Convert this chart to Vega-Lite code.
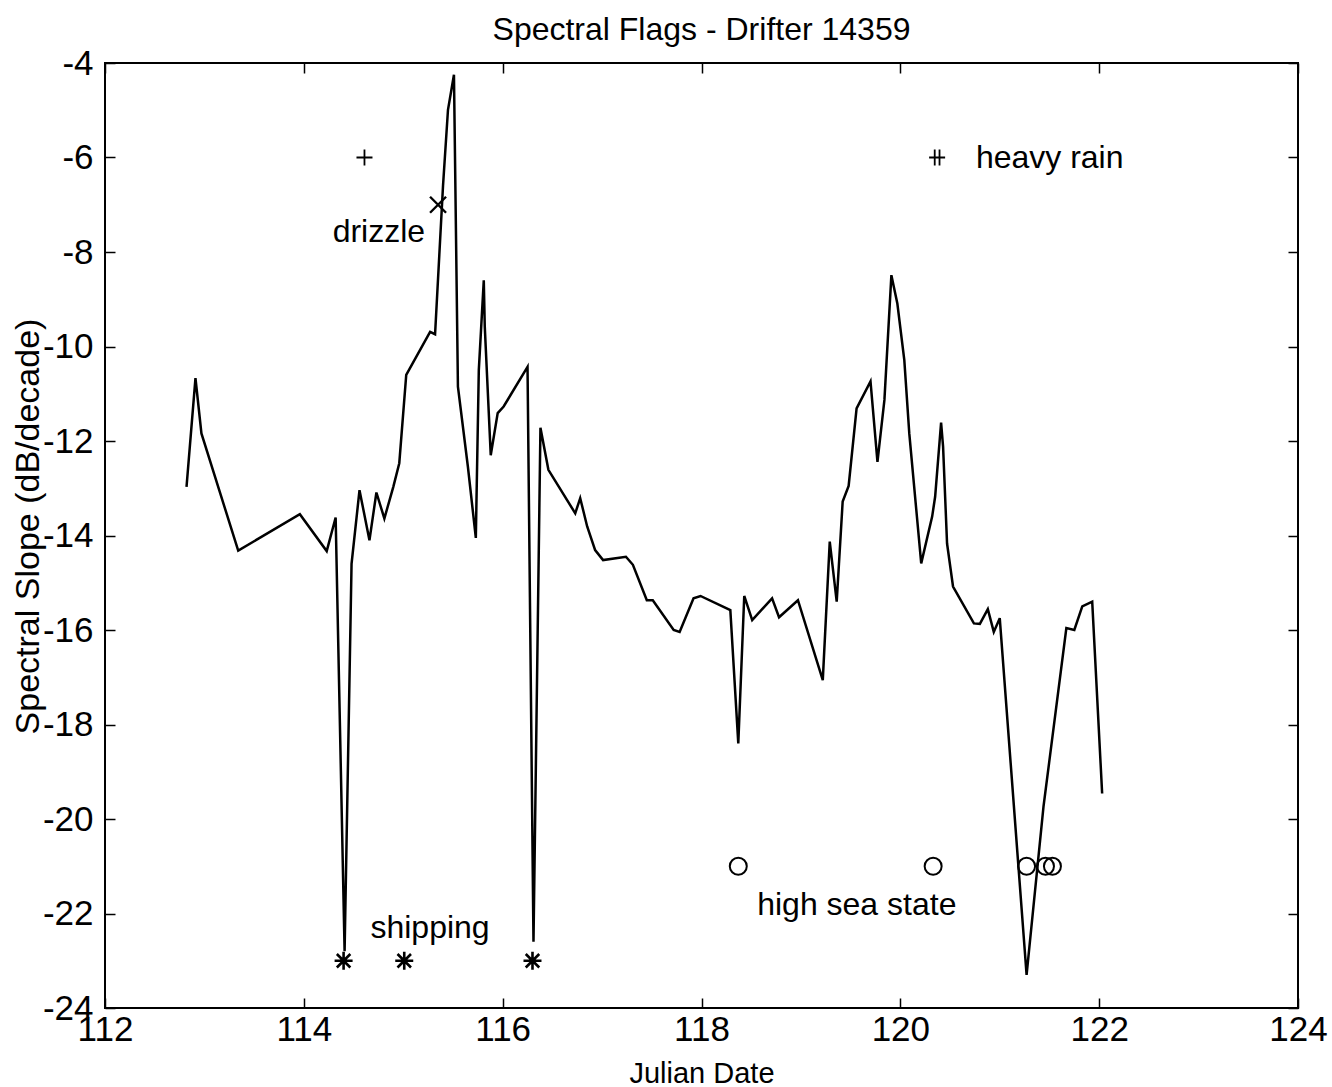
{
  "$schema": "https://vega.github.io/schema/vega-lite/v6.json",
  "width": 1193,
  "height": 945,
  "autosize": {"type": "none"},
  "padding": {"left": 105, "top": 63, "right": 34, "bottom": 79},
  "background": "white",
  "config": {
    "font": "Liberation Sans",
    "view": {"stroke": "black", "strokeWidth": 2},
    "axis": {
      "domain": false, "grid": false, "tickColor": "black", "tickSize": -10, "tickWidth": 1.5,
      "labelColor": "black", "labelFontSize": 35, "titleFontSize": 29, "titleFontWeight": "normal",
      "titleColor": "black", "labelFont": "Liberation Sans", "titleFont": "Liberation Sans"
    }
  },
  "title": {"text": "Spectral Flags - Drifter 14359", "fontSize": 32, "fontWeight": "normal", "font": "Liberation Sans", "offset": -1, "color": "black"},
  "datasets": {
    "line": [
      {"date": 112.82, "slope": -12.97}, {"date": 112.91, "slope": -10.67}, {"date": 112.97, "slope": -11.84},
      {"date": 113.34, "slope": -14.32}, {"date": 113.96, "slope": -13.55}, {"date": 114.23, "slope": -14.33},
      {"date": 114.32, "slope": -13.62}, {"date": 114.41, "slope": -22.8}, {"date": 114.48, "slope": -14.6},
      {"date": 114.56, "slope": -13.04}, {"date": 114.66, "slope": -14.1}, {"date": 114.73, "slope": -13.09},
      {"date": 114.81, "slope": -13.64}, {"date": 114.9, "slope": -12.97}, {"date": 114.96, "slope": -12.47},
      {"date": 115.03, "slope": -10.6}, {"date": 115.27, "slope": -9.69}, {"date": 115.32, "slope": -9.74},
      {"date": 115.4, "slope": -6.6}, {"date": 115.45, "slope": -4.99}, {"date": 115.51, "slope": -4.25},
      {"date": 115.55, "slope": -10.85}, {"date": 115.65, "slope": -12.54}, {"date": 115.73, "slope": -14.05},
      {"date": 115.76, "slope": -10.5}, {"date": 115.81, "slope": -8.6}, {"date": 115.82, "slope": -9.58},
      {"date": 115.88, "slope": -12.3}, {"date": 115.95, "slope": -11.41}, {"date": 116.01, "slope": -11.27},
      {"date": 116.25, "slope": -10.43}, {"date": 116.31, "slope": -22.6}, {"date": 116.38, "slope": -11.72},
      {"date": 116.46, "slope": -12.61}, {"date": 116.73, "slope": -13.53}, {"date": 116.78, "slope": -13.21},
      {"date": 116.85, "slope": -13.81}, {"date": 116.93, "slope": -14.31}, {"date": 117.01, "slope": -14.52},
      {"date": 117.24, "slope": -14.45}, {"date": 117.31, "slope": -14.62}, {"date": 117.45, "slope": -15.37},
      {"date": 117.51, "slope": -15.37}, {"date": 117.72, "slope": -16.0}, {"date": 117.78, "slope": -16.04},
      {"date": 117.92, "slope": -15.33}, {"date": 117.99, "slope": -15.28}, {"date": 118.29, "slope": -15.58},
      {"date": 118.37, "slope": -18.4}, {"date": 118.43, "slope": -15.28}, {"date": 118.51, "slope": -15.79},
      {"date": 118.71, "slope": -15.33}, {"date": 118.78, "slope": -15.73}, {"date": 118.97, "slope": -15.37},
      {"date": 119.22, "slope": -17.06}, {"date": 119.29, "slope": -14.13}, {"date": 119.36, "slope": -15.4},
      {"date": 119.42, "slope": -13.28}, {"date": 119.48, "slope": -12.95}, {"date": 119.56, "slope": -11.31},
      {"date": 119.7, "slope": -10.74}, {"date": 119.77, "slope": -12.44}, {"date": 119.84, "slope": -11.13},
      {"date": 119.91, "slope": -8.49}, {"date": 119.97, "slope": -9.09}, {"date": 120.04, "slope": -10.29},
      {"date": 120.09, "slope": -11.84}, {"date": 120.21, "slope": -14.59}, {"date": 120.32, "slope": -13.6},
      {"date": 120.35, "slope": -13.18}, {"date": 120.41, "slope": -11.61}, {"date": 120.43, "slope": -12.12},
      {"date": 120.47, "slope": -14.17}, {"date": 120.53, "slope": -15.08}, {"date": 120.74, "slope": -15.86},
      {"date": 120.8, "slope": -15.87}, {"date": 120.88, "slope": -15.56}, {"date": 120.94, "slope": -16.04},
      {"date": 121.0, "slope": -15.75}, {"date": 121.27, "slope": -23.3}, {"date": 121.44, "slope": -19.74},
      {"date": 121.67, "slope": -15.96}, {"date": 121.75, "slope": -16.0}, {"date": 121.83, "slope": -15.5},
      {"date": 121.93, "slope": -15.4}, {"date": 122.03, "slope": -19.46}
    ],
    "flags": [
      {"flag": "light rain", "date": 114.61, "slope": -6},
      {"flag": "drizzle", "date": 115.35, "slope": -7},
      {"flag": "shipping", "date": 114.4, "slope": -23},
      {"flag": "shipping", "date": 115.01, "slope": -23},
      {"flag": "shipping", "date": 116.3, "slope": -23},
      {"flag": "high sea state", "date": 118.37, "slope": -21},
      {"flag": "high sea state", "date": 120.33, "slope": -21},
      {"flag": "high sea state", "date": 121.27, "slope": -21},
      {"flag": "high sea state", "date": 121.46, "slope": -21},
      {"flag": "high sea state", "date": 121.53, "slope": -21},
      {"flag": "heavy rain", "date": 120.37, "slope": -6}
    ],
    "labels": [
      {"text": "drizzle", "date": 115.22, "slope": -7.58, "side": "right"},
      {"text": "shipping", "date": 114.67, "slope": -22.3, "side": "left"},
      {"text": "high sea state", "date": 118.56, "slope": -21.82, "side": "left"},
      {"text": "heavy rain", "date": 120.76, "slope": -6, "side": "left"}
    ]
  },
  "layer": [
    {
      "data": {"name": "line"},
      "mark": {"type": "line", "color": "black", "strokeWidth": 2.5},
      "encoding": {
        "x": {"field": "date", "type": "quantitative", "scale": {"domain": [112, 124], "nice": false, "zero": false},
          "axis": {"orient": "bottom", "values": [112, 114, 116, 118, 120, 122, 124], "labelPadding": 14, "title": "Julian Date", "titleFontSize": 29, "titleY": 74, "titleBaseline": "alphabetic", "labelFlush": false, "labelExpr": "'' + datum.value"}},
        "y": {"field": "slope", "type": "quantitative", "scale": {"domain": [-24, -4], "nice": false, "zero": false},
          "axis": {"orient": "left", "values": [-24, -22, -20, -18, -16, -14, -12, -10, -8, -6, -4], "labelPadding": 22, "title": "Spectral Slope (dB/decade)", "titleFontSize": 34, "titleX": -67, "titleY": 463, "titleBaseline": "alphabetic", "titleAngle": -90, "labelFlush": false, "labelExpr": "'' + datum.value"}}
      }
    },
    {
      "data": {"name": "line"},
      "mark": {"type": "line", "opacity": 0},
      "encoding": {
        "x": {"field": "date", "type": "quantitative", "axis": {"orient": "top", "values": [112, 114, 116, 118, 120, 122, 124], "labels": false, "title": null}},
        "y": {"field": "slope", "type": "quantitative", "axis": {"orient": "right", "values": [-24, -22, -20, -18, -16, -14, -12, -10, -8, -6, -4], "labels": false, "title": null}}
      }
    },
    {
      "data": {"name": "flags"},
      "transform": [{"filter": "datum.flag === 'light rain'"}],
      "mark": {"type": "point", "shape": "M-1,0L1,0M0,-1L0,1", "filled": false, "stroke": "black", "opacity": 1, "strokeWidth": 1.8, "size": 256},
      "encoding": {
        "x": {"field": "date", "type": "quantitative", "axis": null},
        "y": {"field": "slope", "type": "quantitative", "axis": null}
      }
    },
    {
      "data": {"name": "flags"},
      "transform": [{"filter": "datum.flag === 'drizzle'"}],
      "mark": {"type": "point", "shape": "M-1,-1L1,1M-1,1L1,-1", "filled": false, "stroke": "black", "opacity": 1, "strokeWidth": 2.4, "size": 256},
      "encoding": {
        "x": {"field": "date", "type": "quantitative", "axis": null},
        "y": {"field": "slope", "type": "quantitative", "axis": null}
      }
    },
    {
      "data": {"name": "flags"},
      "transform": [{"filter": "datum.flag === 'shipping'"}],
      "mark": {"type": "point", "shape": "M-1,0L1,0M0,-1L0,1M-0.75,-0.75L0.75,0.75M-0.75,0.75L0.75,-0.75", "filled": false, "stroke": "black", "opacity": 1, "strokeWidth": 2.6, "size": 324},
      "encoding": {
        "x": {"field": "date", "type": "quantitative", "axis": null},
        "y": {"field": "slope", "type": "quantitative", "axis": null}
      }
    },
    {
      "data": {"name": "flags"},
      "transform": [{"filter": "datum.flag === 'high sea state'"}],
      "mark": {"type": "point", "shape": "circle", "filled": false, "stroke": "black", "strokeWidth": 2, "size": 289, "opacity": 1},
      "encoding": {
        "x": {"field": "date", "type": "quantitative", "axis": null},
        "y": {"field": "slope", "type": "quantitative", "axis": null}
      }
    },
    {
      "data": {"name": "flags"},
      "transform": [{"filter": "datum.flag === 'heavy rain'"}],
      "mark": {"type": "point", "shape": "M-1,0L1,0M-0.3,-1L-0.3,1M0.3,-1L0.3,1", "filled": false, "stroke": "black", "opacity": 1, "strokeWidth": 1.8, "size": 256},
      "encoding": {
        "x": {"field": "date", "type": "quantitative", "axis": null},
        "y": {"field": "slope", "type": "quantitative", "axis": null}
      }
    },
    {
      "data": {"name": "labels"},
      "transform": [{"filter": "datum.side === 'left'"}],
      "mark": {"type": "text", "fontSize": 32, "color": "black", "baseline": "middle", "align": "left", "font": "Liberation Sans"},
      "encoding": {
        "x": {"field": "date", "type": "quantitative", "axis": null},
        "y": {"field": "slope", "type": "quantitative", "axis": null},
        "text": {"field": "text"}
      }
    },
    {
      "data": {"name": "labels"},
      "transform": [{"filter": "datum.side === 'right'"}],
      "mark": {"type": "text", "fontSize": 32, "color": "black", "baseline": "middle", "align": "right", "font": "Liberation Sans"},
      "encoding": {
        "x": {"field": "date", "type": "quantitative", "axis": null},
        "y": {"field": "slope", "type": "quantitative", "axis": null},
        "text": {"field": "text"}
      }
    }
  ],
  "resolve": {"axis": {"x": "independent", "y": "independent"}}
}
